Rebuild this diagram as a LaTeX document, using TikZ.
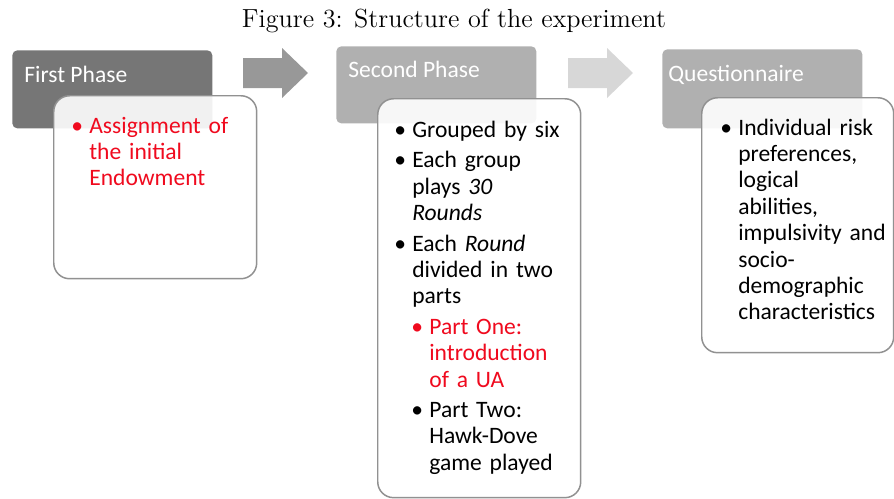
\documentclass[tikz,border=0pt]{standalone}
\usepackage{fontspec}
\newfontfamily\slidefont{Carlito}
\usetikzlibrary{positioning}
\setlength{\parindent}{0pt}

\definecolor{phasedark}{RGB}{118,118,118}
\definecolor{phasegray}{RGB}{176,176,176}
\definecolor{arrowgray}{RGB}{152,152,152}
\definecolor{arrowpale}{RGB}{215,215,215}
\definecolor{cardline}{RGB}{145,145,145}
\definecolor{itemred}{RGB}{240,10,30}

\newcommand{\topstrut}{\rule{0pt}{11pt}}
\newcommand{\botstrut}{\rule[-4pt]{0pt}{4pt}}
\newcommand{\itembullet}{\topstrut\llap{\textbullet\hspace{3.6pt}}}

\tikzset{
  phasebox/.style={anchor=north west, minimum width=4cm, inner sep=0pt, rounded corners=2.8pt},
  card/.style={anchor=north west, minimum width=4.06cm, inner sep=0pt, draw=cardline,
    line width=0.85pt, fill=white, fill opacity=0.9, rounded corners=9pt},
  phasetitle/.style={anchor=base west, inner sep=0pt, text=white,
    font=\slidefont\fontsize{13.4}{15}\selectfont},
  itemtext/.style={anchor=north west, inner sep=0pt, text width=3.6cm, align=left,
    font=\slidefont\fontsize{13.4}{15}\selectfont},
  phasearrow/.pic={\fill (0,-15) -- (39,-15) -- (39,-25) -- (65,0) -- (39,25) -- (39,15) -- (0,15) -- cycle;}
}

\begin{document}
\begin{tikzpicture}[x=0.02cm, y=-0.02cm]
\useasboundingbox (0,0) rectangle (894,498);
\clip (0,0) rectangle (894,498);
\node[anchor=base, inner sep=0pt, font=\fontsize{14.9}{17}\selectfont] (caption) at (454,27) {Figure 3: Structure of the experiment};

% first phase
\node[phasebox, fill=phasedark, minimum height=1.56cm] (hdrfirst) at (12,50) {};
\node[card, minimum height=3.66cm] (cardfirst) at (53,95) {};
\node[phasetitle] (ttlfirst) at (24,82) {First Phase};
\node[itemtext, text=itemred] (endow) at (89,113.6) {\itembullet Assignment of\\the initial\\Endowment\botstrut};

\pic[fill=arrowgray] at (243,73) {phasearrow};

% second phase
\node[phasebox, fill=phasegray, minimum height=1.54cm] (hdrsecond) at (336,46) {};
\node[card, minimum height=7.98cm] (cardsecond) at (377,98) {};
\node[phasetitle] (ttlsecond) at (348,77) {Second Phase};
\node[itemtext] (grouped) at (412,117.6) {\itembullet Grouped by six\botstrut};
\node[itemtext, below=0.07cm of grouped.south west, anchor=north west] (plays) {\itembullet Each group\\plays \textit{30}\\\textit{Rounds}\botstrut};
\node[itemtext, below=0.07cm of plays.south west, anchor=north west] (parts) {\itembullet Each \textit{Round}\\divided in two\\parts\botstrut};
\node[itemtext, text=itemred, below=0.07cm of parts.south west, anchor=north west, xshift=0.34cm] (partone) {\itembullet Part One:\\introduction\\of a UA\botstrut};
\node[itemtext, below=0.07cm of partone.south west, anchor=north west] (parttwo) {\itembullet Part Two:\\Hawk-Dove\\game played\botstrut};

\pic[fill=arrowpale] at (568,73) {phasearrow};

% questionnaire
\node[phasebox, fill=phasegray, minimum height=1.58cm] (hdrthird) at (662,49) {};
\node[card, minimum width=3.84cm, minimum height=5.1cm] (cardthird) at (701,97) {};
\node[phasetitle] (ttlthird) at (668,81) {Questionnaire};
\node[itemtext] (traits) at (738,115.6) {\itembullet Individual risk\\preferences,\\logical\\abilities,\\impulsivity and\\socio-\\demographic\\characteristics\botstrut};
\end{tikzpicture}
\end{document}
